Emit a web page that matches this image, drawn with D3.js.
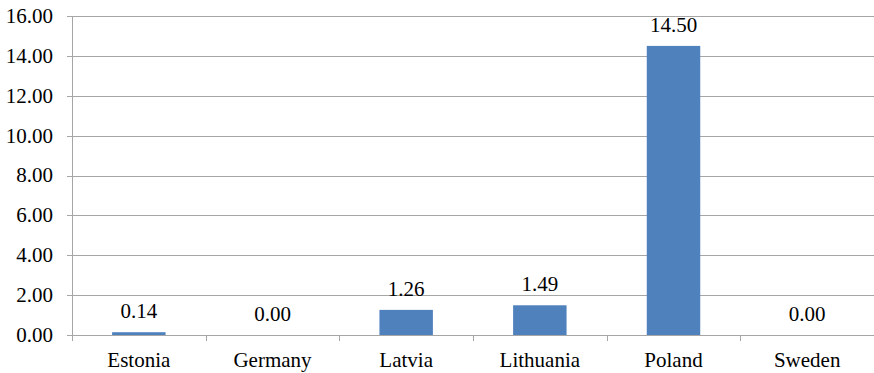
<!DOCTYPE html>
<html>
<head>
<meta charset="utf-8">
<script src="https://cdn.jsdelivr.net/npm/d3@7"></script>
<style>
	body { margin: 0; background: #fff; }
	text { font-family: "Liberation Serif", "Times New Roman", serif; font-size: 21px; fill: #000; }
	.grid line, .axis line, .axis path { stroke: #a6a6a6; shape-rendering: crispEdges; }
</style>
</head>
<body>
<div id="chart"></div>
<script>
var w = 874, h = 373;

var countries = ["Estonia", "Germany", "Latvia", "Lithuania", "Poland", "Sweden"];
var values = [0.14, 0.00, 1.26, 1.49, 14.50, 0.00];
var yTicks = [0, 2, 4, 6, 8, 10, 12, 14, 16];

// plot frame (window.top is reserved, so use other names)
var plotLeft = 72, plotRight = 874, plotTop = 16, plotBottom = 335;

var svg = d3.select("#chart").append("svg")
	.attr("width", w)
	.attr("height", h);

// Scales
var x = d3.scaleBand()
	.domain(countries)
	.range([plotLeft, plotRight])
	.paddingInner(0)
	.paddingOuter(0);

var y = d3.scaleLinear()
	.domain([0, 16])
	.range([plotBottom, plotTop]);

// Gridlines
svg.append("g")
	.attr("class", "grid")
	.selectAll("line")
	.data(yTicks)
	.enter()
	.append("line")
		.attr("x1", plotLeft - 5)
		.attr("x2", plotRight)
		.attr("y1", function(d) { return Math.round(y(d)) + 0.5; })
		.attr("y2", function(d) { return Math.round(y(d)) + 0.5; });

// Y axis line
svg.append("g")
	.attr("class", "axis")
	.append("line")
		.attr("x1", plotLeft + 0.5)
		.attr("x2", plotLeft + 0.5)
		.attr("y1", plotTop)
		.attr("y2", plotBottom + 6);

// Y labels
svg.append("g")
	.selectAll("text")
	.data(yTicks)
	.enter()
	.append("text")
		.attr("x", 53)
		.attr("y", function(d) { return y(d); })
		.attr("dy", "0.33em")
		.attr("text-anchor", "end")
		.text(function(d) { return d.toFixed(2); });

// X category tick marks
var bounds = countries.map(function(c) { return x(c); });
svg.append("g")
	.attr("class", "axis")
	.selectAll("line")
	.data(bounds.slice(1))
	.enter()
	.append("line")
		.attr("x1", function(d) { return Math.round(d) + 0.5; })
		.attr("x2", function(d) { return Math.round(d) + 0.5; })
		.attr("y1", plotBottom)
		.attr("y2", plotBottom + 6);

// Bars
var barW = x.bandwidth() * 0.4;
svg.append("g")
	.selectAll("rect")
	.data(values)
	.enter()
	.append("rect")
		.attr("x", function(d, i) { return x(countries[i]) + (x.bandwidth() - barW) / 2; })
		.attr("width", barW)
		.attr("y", function(d) { return y(d); })
		.attr("height", function(d) { return y(0) - y(d); })
		.attr("fill", "#4f81bd");

// Value labels
svg.append("g")
	.selectAll("text")
	.data(values)
	.enter()
	.append("text")
		.attr("x", function(d, i) { return x(countries[i]) + x.bandwidth() / 2; })
		.attr("y", function(d) { return y(d) - 14; })
		.attr("text-anchor", "middle")
		.text(function(d) { return d.toFixed(2); });

// Category labels
svg.append("g")
	.selectAll("text")
	.data(countries)
	.enter()
	.append("text")
		.attr("x", function(d) { return x(d) + x.bandwidth() / 2; })
		.attr("y", 367)
		.attr("text-anchor", "middle")
		.text(function(d) { return d; });
</script>
</body>
</html>
